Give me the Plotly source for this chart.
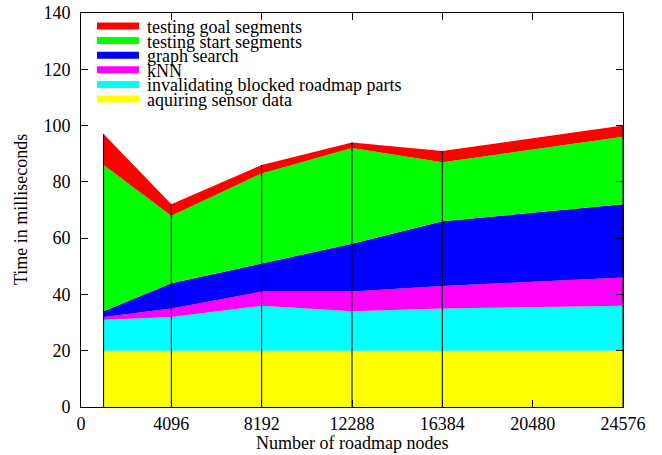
import plotly.graph_objects as go

nodes = [1024, 4096, 8192, 12288, 16384, 24576]
sensor = [20, 20, 20, 20, 20, 20]
invalidating = [11, 12, 16, 14, 15, 16]
knn = [1, 3, 5, 7, 8, 10]
graph_search = [2, 9, 10, 17, 23, 26]
start_seg = [52, 24, 32, 34, 21, 24]
goal_seg = [11, 4, 3, 2, 4, 4]

series = [
    ("aquiring sensor data", sensor, "#ffff00"),
    ("invalidating blocked roadmap parts", invalidating, "#00ffff"),
    ("kNN", knn, "#ff00ff"),
    ("graph search", graph_search, "#0000ff"),
    ("testing start segments", start_seg, "#00ff00"),
    ("testing goal segments", goal_seg, "#ff0000"),
]

x_ticks = [0, 4096, 8192, 12288, 16384, 20480, 24576]
y_ticks = [0, 20, 40, 60, 80, 100, 120, 140]

FONT = "Liberation Serif"
FS = 18
L, R, T, B = 81, 623, 13, 407
W, H = R - L, B - T

fig = go.Figure()
for name, vals, col in series:
    fig.add_trace(go.Scatter(
        x=nodes, y=vals, name=name, stackgroup="one", mode="none",
        fillcolor=col, line=dict(width=0), showlegend=False,
    ))

totals = [sum(v) for v in zip(*[s[1] for s in series])]
vx, vy = [], []
for xi, ti in zip(nodes, totals):
    vx += [xi, xi, None]
    vy += [0, ti, None]
fig.add_trace(go.Scatter(x=vx, y=vy, mode="lines", line=dict(color="black", width=1),
                         showlegend=False, hoverinfo="skip"))

# custom legend (top entry = top of stack)
row_h = 14.6
y0 = 26
for i, (name, vals, col) in enumerate(reversed(series)):
    yc = y0 + i * row_h
    fig.add_shape(type="rect", xref="paper", yref="paper",
                  x0=(97 - L) / W, x1=(139 - L) / W,
                  y0=(B - (yc + 3.5)) / H, y1=(B - (yc - 3.5)) / H,
                  fillcolor=col, line=dict(width=0))
    fig.add_annotation(xref="paper", yref="paper", x=(145 - L) / W,
                       y=(B - yc - 1) / H, text=name, showarrow=False,
                       xanchor="left", yanchor="middle",
                       font=dict(family=FONT, size=FS, color="black"))

# axis titles
fig.add_annotation(xref="paper", yref="paper", x=0.5, y=(B - 443) / H,
                   text="Number of roadmap nodes", showarrow=False,
                   xanchor="center", yanchor="middle",
                   font=dict(family=FONT, size=FS, color="black"))
fig.add_annotation(xref="paper", yref="paper", x=(21 - L) / W, y=0.5,
                   text="Time in milliseconds", showarrow=False, textangle=-90,
                   xanchor="center", yanchor="middle",
                   font=dict(family=FONT, size=FS, color="black"))

fig.update_layout(
    width=662, height=455,
    margin=dict(l=L, r=662 - R, t=T, b=455 - B),
    paper_bgcolor="white", plot_bgcolor="white",
    font=dict(family=FONT, size=FS, color="black"),
    xaxis=dict(range=[0, 24576], tickvals=x_ticks, ticktext=[str(t) for t in x_ticks],
               ticks="inside", ticklen=7, tickcolor="black", showline=True,
               linecolor="black", linewidth=1, mirror="ticks", showgrid=False,
               zeroline=False, automargin=False, ticklabelstandoff=0,
               tickfont=dict(family=FONT, size=FS, color="black")),
    yaxis=dict(range=[0, 140], tickvals=y_ticks, ticks="inside", ticklen=7,
               tickcolor="black", showline=True, linecolor="black", linewidth=1,
               mirror="ticks", showgrid=False, zeroline=False, automargin=False,
               ticklabelstandoff=6,
               tickfont=dict(family=FONT, size=FS, color="black")),
)

fig.write_html("out.html", config={"displayModeBar": False})

# remove the default page margin so the figure sits at the window's top-left
with open("out.html", encoding="utf-8") as f:
    html = f.read()
html = html.replace("<body>", '<body style="margin:0;padding:0;">', 1)
html = html.replace("<head>", "<head><style>html,body{margin:0;padding:0;overflow:hidden;}</style>", 1)
with open("out.html", "w", encoding="utf-8") as f:
    f.write(html)
